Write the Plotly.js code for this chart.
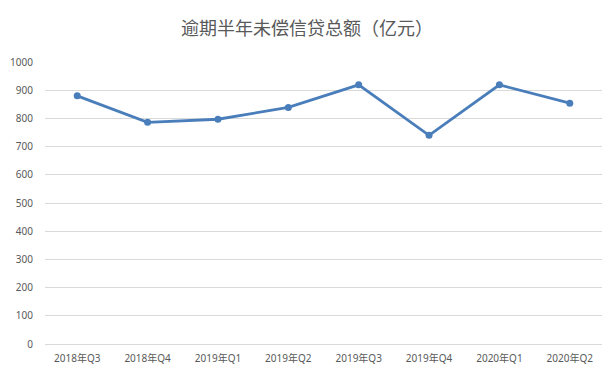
<!DOCTYPE html>
<html><head><meta charset="utf-8">
<script src="https://cdn.plot.ly/plotly-3.0.1.min.js"></script>
<style>html,body{margin:0;padding:0;background:#fff}#chart{width:614px;height:376px}</style>
</head><body><div id="chart"></div>
<script>
const categories = ["2018年Q3","2018年Q4","2019年Q1","2019年Q2","2019年Q3","2019年Q4","2020年Q1","2020年Q2"];
const values = [880, 786, 797, 839, 919, 740, 919, 854];
const yTicks = [0,100,200,300,400,500,600,700,800,900,1000];
const chartTitle = "逾期半年未偿信贷总额（亿元）";

const fontFam = "'Noto Sans', 'Noto Sans CJK SC', sans-serif";
Plotly.newPlot("chart", [{
  x: categories, y: values, type: "scatter", mode: "lines+markers",
  line: {color: "#4a7ebb", width: 2.8},
  marker: {color: "#4a7ebb", size: 7},
  hoverinfo: "x+y"
}], {
  width: 614, height: 376,
  margin: {l: 45, r: 12, t: 62, b: 32},
  paper_bgcolor: "#fff", plot_bgcolor: "#fff",
  title: {text: chartTitle, x: 0.5, xanchor: "center", y: 0.925, yanchor: "middle",
    font: {family: "'Noto Sans CJK SC', sans-serif", size: 18, color: "#595959"}},
  xaxis: {type: "category", showgrid: false, zeroline: false, showline: false,
    ticks: "outside", ticklen: 5, tickcolor: "rgba(0,0,0,0)",
    tickfont: {family: fontFam, size: 10, color: "#595959"}},
  yaxis: {range: [0, 1000], tickvals: yTicks, showgrid: true, gridcolor: "#d9d9d9", gridwidth: 1,
    zeroline: true, zerolinecolor: "#d9d9d9", zerolinewidth: 1, showline: false,
    ticks: "outside", ticklen: 9, tickcolor: "rgba(0,0,0,0)",
    tickfont: {family: fontFam, size: 10, color: "#595959"}},
  showlegend: false
}, {displayModeBar: false, staticPlot: true});
</script></body></html>
